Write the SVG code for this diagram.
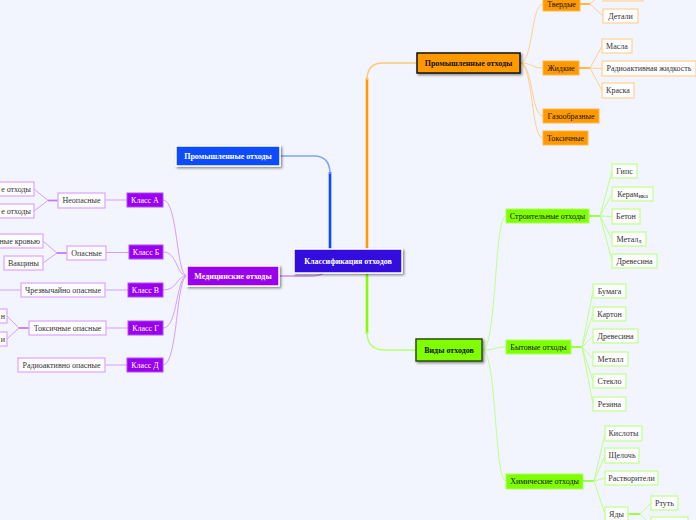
<svg xmlns="http://www.w3.org/2000/svg" width="696" height="520" viewBox="0 0 696 520">
<defs>
<filter id="sh" x="-20%" y="-40%" width="140%" height="190%">
<feDropShadow dx="1.5" dy="1.5" stdDeviation="0.8" flood-color="#000" flood-opacity="0.45"/>
</filter>
<style>
text{font-family:"Liberation Serif","Times New Roman",serif;font-size:8px;text-anchor:middle}
.b{font-weight:bold}
.w{fill:#ffffff}
.k{fill:#111111}
.g{fill:#333333}
.lo{fill:none;stroke:#ffcf8f;stroke-width:1}
.lot{fill:none;stroke:#ffb84d;stroke-width:2}
.lg{fill:none;stroke:#bfff8a;stroke-width:1}
.lgt{fill:none;stroke:#9dff4d;stroke-width:2}
.lp{fill:none;stroke:#d79cff;stroke-width:1}
.lpt{fill:none;stroke:#c47aff;stroke-width:1.8}
.co{fill:#fdfdfe;stroke:#ffd49c;stroke-width:1.3}
.cg{fill:#fdfdfe;stroke:#c4ff92;stroke-width:1.3}
.cp{fill:#fdfdfe;stroke:#dfaaff;stroke-width:1.3}
.fo{fill:#ff9900;stroke:#ffb84d;stroke-width:1}
.fg{fill:#80ff00;stroke:#a8ff5c;stroke-width:1}
.fp{fill:#9900ee;stroke:#b24dff;stroke-width:1}
.e{text-anchor:end}
</style>
</defs>
<rect width="696" height="520" fill="#f2f5fd"/>
<g id="connectors">
<path d="M330,249 V172" fill="none" stroke="#0a4bff" stroke-width="2.6"/>
<path d="M330,174 Q330,156 314,156 H280" fill="none" stroke="#7fa4ff" stroke-width="1.5"/>
<path d="M367,249 V78" fill="none" stroke="#ff9900" stroke-width="2.6"/>
<path d="M367,80 Q367,63 383,63 H417" fill="none" stroke="#ffc875" stroke-width="1.5"/>
<path d="M367,273 V334" fill="none" stroke="#80ff00" stroke-width="2.6"/>
<path d="M367,332 Q367,350 385,350 H416" fill="none" stroke="#b5ff70" stroke-width="1.5"/>
<path d="M323,273 Q322,276 308,276 H279" fill="none" stroke="#c98cff" stroke-width="1.3"/>
<path class="lo" d="M520,63 C533,63 531,4 543,4"/>
<path class="lo" d="M520,63 C533,63 531,68 543,68"/>
<path class="lo" d="M520,63 C533,63 531,116 543,116"/>
<path class="lo" d="M520,63 C533,63 531,138 543,138"/>
<path class="lot" d="M580,4 H590"/>
<path class="lo" d="M590,4 L603,-7 M590,4 L603,16"/>
<path class="lot" d="M579,68 H590"/>
<path class="lo" d="M590,68 L602,46 M590,68 L602,68.5 M590,68 L602,90.5"/>
<path class="lg" d="M482,350 C497,350 494,216 506,216"/>
<path class="lg" d="M482,350 C497,350 494,347 506,347"/>
<path class="lg" d="M482,350 C497,350 494,481 506,481"/>
<path class="lgt" d="M589,216 H600"/>
<path class="lg" d="M600,216 L612,171 M600,216 L612,194 M600,216 L612,216.5 M600,216 L612,239 M600,216 L612,261"/>
<path class="lgt" d="M571,347 H582"/>
<path class="lg" d="M582,347 L593,291 M582,347 L593,314 M582,347 L593,336 M582,347 L593,359 M582,347 L593,381 M582,347 L593,404"/>
<path class="lgt" d="M583,481 H594"/>
<path class="lg" d="M594,481 L605,433.5 M594,481 L605,455.5 M594,481 L605,478 M594,481 L605,514"/>
<path class="lgt" d="M628,514 H640"/>
<path class="lg" d="M640,514 L651,503 M640,514 L651,525"/>
<path class="lp" d="M187,276 C176,276 178,200 163,200"/>
<path class="lp" d="M187,276 C176,276 178,252 163,252"/>
<path class="lp" d="M187,276 C176,276 178,290 163,290"/>
<path class="lp" d="M187,276 C176,276 178,328 163,328"/>
<path class="lp" d="M187,276 C176,276 178,365 163,365"/>
<path class="lp" d="M127,200 H105 M129,252.5 H106 M128,290 H105 M128,328 H106 M127,365 H105 M21,290 H0"/>
<path class="lpt" d="M58,200.5 H48"/>
<path class="lp" d="M48,200.5 L34,189 M48,200.5 L34,211"/>
<path class="lpt" d="M67,253 H57"/>
<path class="lp" d="M57,253 L43,241 M57,253 L43,263"/>
<path class="lpt" d="M29,328 H19"/>
<path class="lp" d="M19,328 L7,316 M19,328 L7,339"/>
</g>
<g id="n-root"><rect x="294" y="249" width="108" height="24" fill="#3311dd" stroke="#ffffff" stroke-width="1.5" filter="url(#sh)"/><text x="348" y="263.5" class="b w">Классификация отходов</text></g>
<g id="n-prom-blue"><rect x="176" y="146" width="104" height="20" fill="#0a4bff" stroke="#ffffff" stroke-width="1.5" filter="url(#sh)"/><text x="228" y="158.5" class="b w">Промышленные отходы</text></g>
<g id="n-med"><rect x="187" y="266" width="92" height="20" fill="#9900ee" stroke="#ffffff" stroke-width="1.5" filter="url(#sh)"/><text x="233" y="278.5" class="b w">Медицинские отходы</text></g>
<g id="n-prom"><rect x="417" y="53" width="103" height="20" fill="#ff9900" stroke="#111111" stroke-width="1.5" filter="url(#sh)"/><text x="468.5" y="65.5" class="b k">Промышленные отходы</text></g>
<g id="n-vidy"><rect x="416" y="339" width="66" height="22" fill="#80ff00" stroke="#2d4d10" stroke-width="1.5" filter="url(#sh)"/><text x="449" y="352.5" class="b k">Виды отходов</text></g>
<g id="n-tverd"><rect class="fo" x="543" y="-4" width="37" height="15"/><text x="561.5" y="6.5" class="k">Твердые</text></g>
<g id="n-tverd-x"><rect class="co" x="603" y="-14" width="40" height="15"/></g>
<g id="n-detali"><rect class="co" x="603" y="9" width="35" height="14"/><text x="620.5" y="18.5" class="g">Детали</text></g>
<g id="n-zhid"><rect class="fo" x="543" y="61" width="36" height="14"/><text x="561" y="70.5" class="k">Жидкие</text></g>
<g id="n-masla"><rect class="co" x="602" y="39" width="30" height="14"/><text x="617" y="48.5" class="g">Масла</text></g>
<g id="n-radzh"><rect class="co" x="602" y="61" width="94" height="15"/><text x="649" y="71" class="g">Радиоактивная жидкость</text></g>
<g id="n-kraska"><rect class="co" x="602" y="83" width="32" height="15"/><text x="618" y="93" class="g">Краска</text></g>
<g id="n-gaz"><rect class="fo" x="543" y="109" width="56" height="14"/><text x="571" y="118.5" class="k">Газообразные</text></g>
<g id="n-toks"><rect class="fo" x="543" y="131" width="45" height="14"/><text x="565.5" y="140.5" class="k">Токсичные</text></g>
<g id="n-stroy"><rect class="fg" x="506" y="209" width="83" height="14"/><text x="547.5" y="218.5" class="k">Строительные отходы</text></g>
<g id="n-gips"><rect class="cg" x="612" y="164" width="25" height="14"/><text x="624.5" y="173.5" class="g">Гипс</text></g>
<g id="n-keram"><rect class="cg" x="612" y="187" width="41" height="14"/><text x="632.5" y="196.5" class="g">Керам<tspan font-size="6.5" dy="1">ика</tspan></text></g>
<g id="n-beton"><rect class="cg" x="612" y="209" width="28" height="15"/><text x="626" y="219" class="g">Бетон</text></g>
<g id="n-metal1"><rect class="cg" x="612" y="232" width="34" height="14"/><text x="629" y="241.5" class="g">Метал<tspan font-size="6.5" dy="1.5">л</tspan></text></g>
<g id="n-drev1"><rect class="cg" x="612" y="254" width="45" height="14"/><text x="634.5" y="263.5" class="g">Древесина</text></g>
<g id="n-byt"><rect class="fg" x="506" y="340" width="65" height="14"/><text x="538.5" y="349.5" class="k">Бытовые отходы</text></g>
<g id="n-bumaga"><rect class="cg" x="593" y="284" width="33" height="14"/><text x="609.5" y="293.5" class="g">Бумага</text></g>
<g id="n-karton"><rect class="cg" x="593" y="307" width="33" height="14"/><text x="609.5" y="316.5" class="g">Картон</text></g>
<g id="n-drev2"><rect class="cg" x="593" y="329" width="45" height="14"/><text x="615.5" y="338.5" class="g">Древесина</text></g>
<g id="n-metal2"><rect class="cg" x="593" y="352" width="35" height="14"/><text x="610.5" y="361.5" class="g">Металл</text></g>
<g id="n-steklo"><rect class="cg" x="593" y="374" width="33" height="14"/><text x="609.5" y="383.5" class="g">Стекло</text></g>
<g id="n-rezina"><rect class="cg" x="593" y="397" width="33" height="14"/><text x="609.5" y="406.5" class="g">Резина</text></g>
<g id="n-him"><rect class="fg" x="506" y="474" width="77" height="15"/><text x="544.5" y="484" class="k">Химические отходы</text></g>
<g id="n-kisl"><rect class="cg" x="605" y="426" width="37" height="15"/><text x="623.5" y="436" class="g">Кислоты</text></g>
<g id="n-shch"><rect class="cg" x="605" y="448" width="34" height="15"/><text x="622" y="458" class="g">Щелочь</text></g>
<g id="n-rastv"><rect class="cg" x="605" y="471" width="53" height="14"/><text x="631.5" y="480.5" class="g">Растворители</text></g>
<g id="n-yady"><rect class="cg" x="605" y="507" width="23" height="16"/><text x="616.5" y="516.5" class="g">Яды</text></g>
<g id="n-rtut"><rect class="cg" x="651" y="496" width="27" height="14"/><text x="664.5" y="505.5" class="g">Ртуть</text></g>
<g id="n-yady-x"><rect class="cg" x="651" y="517" width="37" height="12"/></g>
<g id="n-klA"><rect class="fp" x="127" y="193" width="36" height="14"/><text x="145" y="202.5" class="w">Класс А</text></g>
<g id="n-klB"><rect class="fp" x="129" y="245" width="34" height="14"/><text x="146" y="254.5" class="w">Класс Б</text></g>
<g id="n-klV"><rect class="fp" x="128" y="283" width="35" height="14"/><text x="145.5" y="292.5" class="w">Класс В</text></g>
<g id="n-klG"><rect class="fp" x="128" y="321" width="35" height="14"/><text x="145.5" y="330.5" class="w">Класс Г</text></g>
<g id="n-klD"><rect class="fp" x="127" y="358" width="36" height="14"/><text x="145" y="367.5" class="w">Класс Д</text></g>
<g id="n-neop"><rect class="cp" x="58" y="193" width="47" height="15"/><text x="81.5" y="203" class="g">Неопасные</text></g>
<g id="n-neop1"><rect class="cp" x="-20" y="182" width="54" height="14"/><text x="31" y="191.5" class="g e">е отходы</text></g>
<g id="n-neop2"><rect class="cp" x="-20" y="204" width="54" height="14"/><text x="31" y="213.5" class="g e">е отходы</text></g>
<g id="n-op"><rect class="cp" x="67" y="246" width="39" height="14"/><text x="86.5" y="255.5" class="g">Опасные</text></g>
<g id="n-krov"><rect class="cp" x="-20" y="234" width="63" height="14"/><text x="40" y="243.5" class="g e">ные кровью</text></g>
<g id="n-vakc"><rect class="cp" x="4" y="256" width="39" height="14"/><text x="23.5" y="265.5" class="g">Вакцины</text></g>
<g id="n-chrez"><rect class="cp" x="21" y="283" width="84" height="14"/><text x="63" y="292.5" class="g">Чрезвычайно опасные</text></g>
<g id="n-toksop"><rect class="cp" x="29" y="321" width="77" height="14"/><text x="67.5" y="330.5" class="g">Токсичные опасные</text></g>
<g id="n-tx1"><rect class="cp" x="-20" y="309" width="27" height="14"/><text x="5" y="318.5" class="g e">н</text></g>
<g id="n-tx2"><rect class="cp" x="-20" y="332" width="27" height="14"/><text x="5" y="341.5" class="g e">и</text></g>
<g id="n-radop"><rect class="cp" x="18" y="358" width="87" height="14"/><text x="61.5" y="367.5" class="g">Радиоактивно опасные</text></g>
</svg>
